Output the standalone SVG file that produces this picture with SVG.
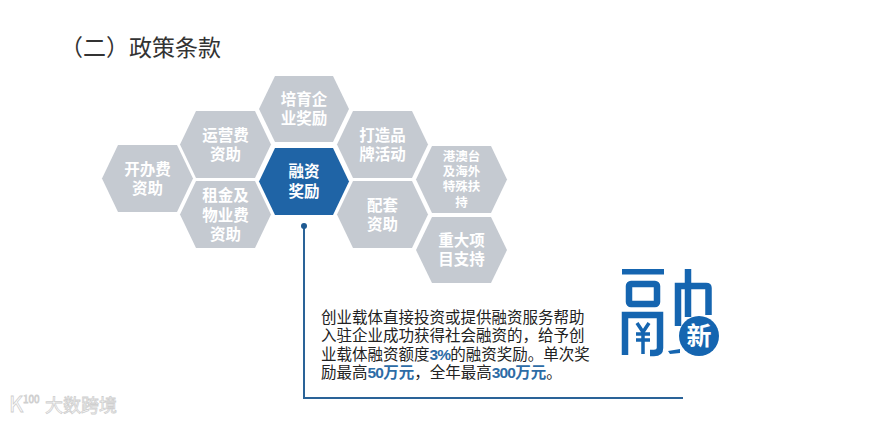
<svg xmlns="http://www.w3.org/2000/svg" width="894" height="422" viewBox="0 0 894 422">
<style>
text{font-family:"Noto Sans CJK SC","Liberation Sans",sans-serif}
.hex{fill:#c5cad1}
.hl{fill:#1f64a6}
.t{font-size:15.500px;font-weight:700;fill:#fff;text-anchor:middle}
.s{font-size:12.500px}
.p{font-size:15.500px;fill:#222}
.b{font-weight:700;fill:#2d6ca6;font-family:"Liberation Sans","Noto Sans CJK SC",sans-serif;letter-spacing:-.8px}
.c{fill:#2d6ca6;font-weight:700}
.logo{fill:none;stroke:#1565b0;stroke-width:6.500}
.w{fill:#fff;stroke:#cfcfcf;stroke-width:.8}
</style>
<rect width="894" height="422" fill="#fff"/>
<text x="60" y="56" font-size="23" fill="#333">（二）政策条款</text>
<g id="connectors">
<path d="M304 226V398H683" fill="none" stroke="#2a6398" stroke-width="2"/>
<circle cx="304" cy="226" r="3" fill="#1f5a92"/>
</g>
<g id="n1"><polygon class="hex" points="118,145 177,145 193,178.500 177,212 118,212 102,178.500"/><text class="t" x="147.500" y="175">开办费<tspan x="147.500" dy="19">资助</tspan></text></g>
<g id="n2"><polygon class="hex" points="196,111 255,111 271,144.500 255,178 196,178 180,144.500"/><text class="t" x="225.500" y="141">运营费<tspan x="225.500" dy="19">资助</tspan></text></g>
<g id="n3"><polygon class="hex" points="196,181 255,181 271,214.500 255,248 196,248 180,214.500"/><text class="t" x="225.500" y="201">租金及<tspan x="225.500" dy="19.500">物业费</tspan><tspan x="225.500" dy="19.500">资助</tspan></text></g>
<g id="n4"><polygon class="hex" points="275,76 333,76 349,109 333,142 275,142 259,109"/><text class="t" x="304" y="105">培育企<tspan x="304" dy="19">业奖励</tspan></text></g>
<g id="n5"><polygon class="hl" points="275,148 333,148 349,181.500 333,215 275,215 259,181.500"/><text class="t" x="304" y="177">融资<tspan x="304" dy="20">奖励</tspan></text></g>
<g id="n6"><polygon class="hex" points="353,111 412,111 428,144.500 412,178 353,178 337,144.500"/><text class="t" x="382.500" y="141">打造品<tspan x="382.500" dy="19">牌活动</tspan></text></g>
<g id="n7"><polygon class="hex" points="353,181 412,181 428,214.500 412,248 353,248 337,214.500"/><text class="t" x="382.500" y="211">配套<tspan x="382.500" dy="19">资助</tspan></text></g>
<g id="n8"><polygon class="hex" points="432,146 491,146 507,179.500 491,213 432,213 416,179.500"/><text class="t s" x="461.500" y="161">港澳台<tspan x="461.500" dy="15">及海外</tspan><tspan x="461.500" dy="15">特殊扶</tspan><tspan x="461.500" dy="16">持</tspan></text></g>
<g id="n9"><polygon class="hex" points="432,217 491,217 507,250 491,283 432,283 416,250"/><text class="t" x="461.500" y="246">重大项<tspan x="461.500" dy="19">目支持</tspan></text></g>
<g id="desc">
<text class="p" x="321" y="323">创业载体直接投资或提供融资服务帮助<tspan x="321" dy="18.300">入驻企业成功获得社会融资的，给予创</tspan><tspan x="321" dy="18.300">业载体融资额度</tspan><tspan class="b">3%</tspan><tspan>的融资奖励。单次奖</tspan><tspan x="321" dy="18.300">励最高</tspan><tspan class="b">50</tspan><tspan class="c">万元</tspan><tspan>，全年最高</tspan><tspan class="b">300</tspan><tspan class="c">万元</tspan><tspan>。</tspan></text>
</g>
<g id="logo">
<rect x="622" y="269" width="42" height="5.500" fill="#1565b0"/>
<rect class="logo" x="629" y="284" width="28" height="20" rx="2"/>
<path class="logo" d="M625 355V315H660V348Q660 353 654 353H650"/>
<path class="logo" d="M637 323L643 332L649 323M643 332V354M636 334H650M636 340H650" style="stroke-width:3.500"/>
<path class="logo" d="M688 269V317"/>
<path class="logo" d="M678 326V286H706Q708.500 286 708.500 288V315"/>
<path d="M668 351L680 349L680 353L670 354Z" fill="#1565b0"/>
<circle cx="699" cy="336" r="20" fill="#1565b0"/>
<text x="699" y="345" font-size="25" font-weight="700" fill="#fff" text-anchor="middle">新</text>
</g>
<g id="watermark">
<text class="w" x="9" y="412" font-size="22">K</text>
<text class="w" x="23" y="403" font-size="10">100</text>
<text class="w" x="45" y="412" font-size="18">大数跨境</text>
</g>
</svg>
